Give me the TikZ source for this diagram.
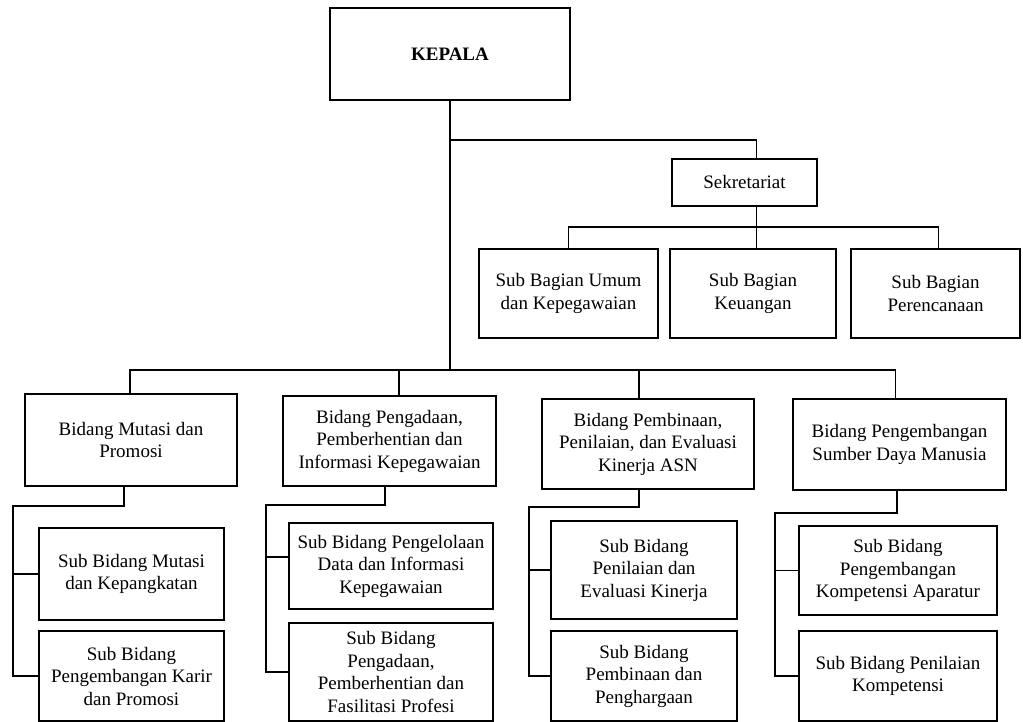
\documentclass[tikz,border=0pt]{standalone}
\usepackage{fontspec}
\setmainfont{Liberation Serif}
\usepackage{tikz}
\usetikzlibrary{positioning,calc}
\newcommand{\orgfont}{\fontsize{19}{22.5}\selectfont}
\tikzset{
  unit/.style={rectangle,draw=black,line width=1.2pt,align=center,inner sep=2pt,font=\orgfont},
  link/.style={line width=1.2pt,line cap=rect}
}

\begin{document}
\begin{tikzpicture}[x=1pt,y=-1pt]
  \useasboundingbox (0,0) rectangle (1023,722);
  % pimpinan dan sekretariat
  \node[unit,minimum width=240,minimum height=92] (kepala) at (450,54) {\textbf{KEPALA}};
  \node[unit,minimum width=145,minimum height=47] (sek) at (744.5,182.5) {Sekretariat};
  \node[unit,minimum width=179,minimum height=89] (sbu) at (568.5,293.5) {Sub Bagian Umum\\dan Kepegawaian};
  \node[unit,minimum width=166,minimum height=89] (sbk) at (753,293.5) {Sub Bagian\\Keuangan};
  \node[unit,minimum width=169,minimum height=89] (sbp) at (935.5,293.5) {Sub Bagian\\Perencanaan};
  % bidang
  \node[unit,minimum width=212,minimum height=92] (bmp) at (131,440) {Bidang Mutasi dan\\Promosi};
  \node[unit,minimum width=213,minimum height=90] (bpp) at (389.5,441) {Bidang Pengadaan,\\Pemberhentian dan\\Informasi Kepegawaian};
  \node[unit,minimum width=212,minimum height=90] (bpe) at (648,444) {Bidang Pembinaan,\\Penilaian, dan Evaluasi\\Kinerja ASN};
  \node[unit,minimum width=213,minimum height=91] (bps) at (899.5,444.5) {Bidang Pengembangan\\Sumber Daya Manusia};
  % sub bidang
  \node[unit,minimum width=185,minimum height=92] (s11) at (131.5,574) {Sub Bidang Mutasi\\dan Kepangkatan};
  \node[unit,minimum width=185,minimum height=90] (s12) at (131.5,676) {Sub Bidang\\Pengembangan Karir\\dan Promosi};
  \node[unit,minimum width=204,minimum height=86] (s21) at (391,566) {Sub Bidang Pengelolaan\\Data dan Informasi\\Kepegawaian};
  \node[unit,minimum width=204,minimum height=98] (s22) at (391,672) {Sub Bidang\\Pengadaan,\\Pemberhentian dan\\Fasilitasi Profesi};
  \node[unit,minimum width=186,minimum height=98] (s31) at (644,570) {Sub Bidang\\Penilaian dan\\Evaluasi Kinerja};
  \node[unit,minimum width=186,minimum height=90] (s32) at (644,676) {Sub Bidang\\Pembinaan dan\\Penghargaan};
  \node[unit,minimum width=198,minimum height=89] (s41) at (898,570.5) {Sub Bidang\\Pengembangan\\Kompetensi Aparatur};
  \node[unit,minimum width=198,minimum height=90] (s42) at (898,676) {Sub Bidang Penilaian\\Kompetensi};
  % garis komando
  \coordinate (bus) at (0,370);
  \coordinate (sekbus) at (0,227);
  \draw[link] (kepala.south) -- (kepala.south |- bus);
  \draw[link] (kepala.south |- 0,140) -| ([xshift=12]sek.north);
  \draw[link] ([xshift=12]sek.south) -- ([xshift=12]sek.south |- sbk.north);
  \draw[link] (sbu.north) |- ([xshift=3]sbp.north |- sekbus) -- ([xshift=3]sbp.north);
  \draw[link] ([xshift=-1]bmp.north) |- ([xshift=-4]bps.north |- bus) -- ([xshift=-4]bps.north);
  \draw[link] ([xshift=9.5]bpp.north) -- ([xshift=9.5]bpp.north |- bus);
  \draw[link] ([xshift=-9]bpe.north) -- ([xshift=-9]bpe.north |- bus);
  % cabang sub bidang
  \coordinate (g1) at (13,506);
  \draw[link] ([xshift=-7]bmp.south) |- (g1) |- (s12.west);
  \draw[link] (g1 |- s11.west) -- (s11.west);
  \coordinate (g2) at (266,505);
  \draw[link] ([xshift=-4.5]bpp.south) |- (g2) |- (s22.west);
  \draw[link] (g2 |- 0,557) -- ([yshift=9]s21.west);
  \coordinate (g3) at (529,507);
  \draw[link] ([xshift=-9]bpe.south) |- (g3) |- (s32.west);
  \draw[link] (g3 |- s31.west) -- (s31.west);
  \coordinate (g4) at (775,513);
  \draw[link] ([xshift=-2.5]bps.south) |- (g4) |- (s42.west);
  \draw[link] (g4 |- s41.west) -- (s41.west);
\end{tikzpicture}
\end{document}
